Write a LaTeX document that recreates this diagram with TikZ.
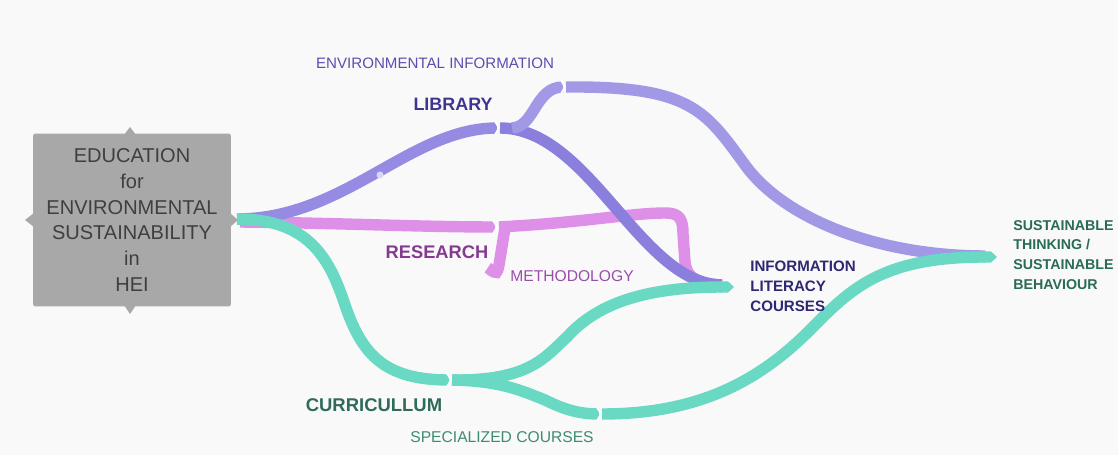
\documentclass[tikz,border=0pt]{standalone}
\usepackage{fontspec}
\setmainfont{Liberation Sans}
\usetikzlibrary{arrows.meta,calc}
\definecolor{bg}{HTML}{F9F9F9}
\definecolor{boxgray}{HTML}{A8A8A8}
\definecolor{boxtext}{HTML}{3F3F3F}
\definecolor{libA}{HTML}{968BE2}
\definecolor{libB}{HTML}{8A7FDD}
\definecolor{libC}{HTML}{A198E6}
\definecolor{resC}{HTML}{DE8FE8}
\definecolor{curC}{HTML}{6AD9C3}
\definecolor{envT}{HTML}{5C4DAE}
\definecolor{libT}{HTML}{3F3590}
\definecolor{resT}{HTML}{853A92}
\definecolor{metT}{HTML}{9A4DAA}
\definecolor{infT}{HTML}{2E2872}
\definecolor{susT}{HTML}{2A6B58}
\definecolor{curT}{HTML}{2F6B5A}
\definecolor{speT}{HTML}{3F8A74}
\tikzset{
  band/.style={line width=6.5pt, line cap=butt},
  tipband/.style={band, -{Triangle Cap[length=3.5pt]}},
  notch/.style={white, line width=1.1pt},
  lbl/.style={inner sep=0pt, font=\fontsize{#1}{#1}\selectfont},
}
\begin{document}
\begin{tikzpicture}[x=0.02cm,y=-0.02cm]
\fill[bg] (0,0) rectangle (1118,455);
\useasboundingbox (0,0) rectangle (1118,455);

% source box
\fill[boxgray] (124,135) -- (130,127) -- (136,135) -- cycle;
\fill[boxgray] (124,305) -- (130,314) -- (136,305) -- cycle;
\fill[boxgray] (34,213) -- (25,220) -- (34,227) -- cycle;
\node[fill=boxgray, rounded corners=1.5pt, minimum width=3.96cm, minimum height=3.46cm,
      inner sep=0pt, align=center, text=boxtext,
      font=\fontsize{11.4}{14.7}\selectfont] (edu) at (132,220)
  {EDUCATION\\for\\ENVIRONMENTAL\\SUSTAINABILITY\\in\\HEI};
\fill[boxgray] (230,213) -- (238,220) -- (230,227) -- cycle;

% junction coordinates
\coordinate (o)  at (237,219);
\coordinate (oR) at (240,222);
\coordinate (jL) at (497,128);
\coordinate (jL2) at (500,128);
\coordinate (jU) at (563,87);
\coordinate (jU2) at (566,87);
\coordinate (jR) at (495,227);
\coordinate (jR2) at (499,227);
\coordinate (jC) at (449,380);
\coordinate (jC2) at (452,380);
\coordinate (jS) at (599,414);
\coordinate (jS2) at (602,414);
\coordinate (infoT) at (734,287);
\coordinate (infoM) at (722,285);
\coordinate (sustT) at (997,257);
\coordinate (sustM) at (985,256);

% research (pink)
\draw[band, resC] (oR) .. controls (340,223) and (420,227) .. (jR);
\draw[band, resC] (jR2) .. controls (590,222) and (630,213) .. (666,213)
   .. controls (680,213) and (683,220) .. (683,234) -- (685,262)
   .. controls (687,280) and (700,284) .. (infoM);
\draw[tipband, resC] (505,228) -- (499,265) .. controls (497,274) .. (500,276);

% library (purple)
\draw[band, libA] (o) .. controls (345,219) and (410,128) .. (jL);
\draw[band, libB] (jL2) .. controls (590,128) and (640,284) .. (infoM);
\draw[band, libC] (512,128) .. controls (535,127) and (535,87) .. (jU);
\draw[band, libC] (jU2) .. controls (690,86) and (705,110) .. (745,165)
   .. controls (785,220) and (880,256) .. (sustM);
\fill[white!65!libA] (380,175) circle (3.5);

% curriculum (teal)
\draw[band, curC] (o) .. controls (310,219) and (330,260) .. (345,305)
   .. controls (362,355) and (385,380) .. (jC);
\draw[band, curC] (jC2) .. controls (500,381) and (520,390) .. (545,400)
   .. controls (565,410) and (580,414) .. (jS);
\draw[tipband, curC] (jC2) .. controls (530,381) and (545,357) .. (567,337)
   .. controls (595,306) and (640,287) .. (infoT);
\draw[tipband, curC] (jS2) .. controls (700,414) and (760,380) .. (810,330)
   .. controls (850,290) and (880,257) .. (sustT);

% notches
\foreach \p in {jL, jU, jR, jC, jS}
  \draw[notch] ($(\p)+(-2,-7)$) -- ($(\p)+(2,0)$) -- ($(\p)+(-2,7)$);

% labels
\node[lbl=8.6, text=envT] (envinfo) at (435,63) {ENVIRONMENTAL INFORMATION};
\node[lbl=10.2, text=libT, font=\bfseries\fontsize{10.2}{10.2}\selectfont] (library) at (453,104) {LIBRARY};
\node[lbl=10.4, text=resT, font=\bfseries\fontsize{10.4}{10.4}\selectfont] (research) at (437,252) {RESEARCH};
\node[lbl=8.9, text=metT] (method) at (572,276) {METHODOLOGY};
\node[inner sep=0pt, anchor=west, align=left, text=infT,
      font=\bfseries\fontsize{8.6}{11.3}\selectfont] (info) at (750,286)
  {INFORMATION\\LITERACY\\COURSES};
\node[inner sep=0pt, anchor=west, align=left, text=susT,
      font=\bfseries\fontsize{8.1}{11.3}\selectfont] (sust) at (1013,255)
  {SUSTAINABLE\\THINKING /\\SUSTAINABLE\\BEHAVIOUR};
\node[lbl=10.5, text=curT, font=\bfseries\fontsize{10.5}{10.5}\selectfont] (curr) at (374,405) {CURRICULLUM};
\node[lbl=8.9, text=speT] (spec) at (502,437) {SPECIALIZED COURSES};
\end{tikzpicture}
\end{document}
